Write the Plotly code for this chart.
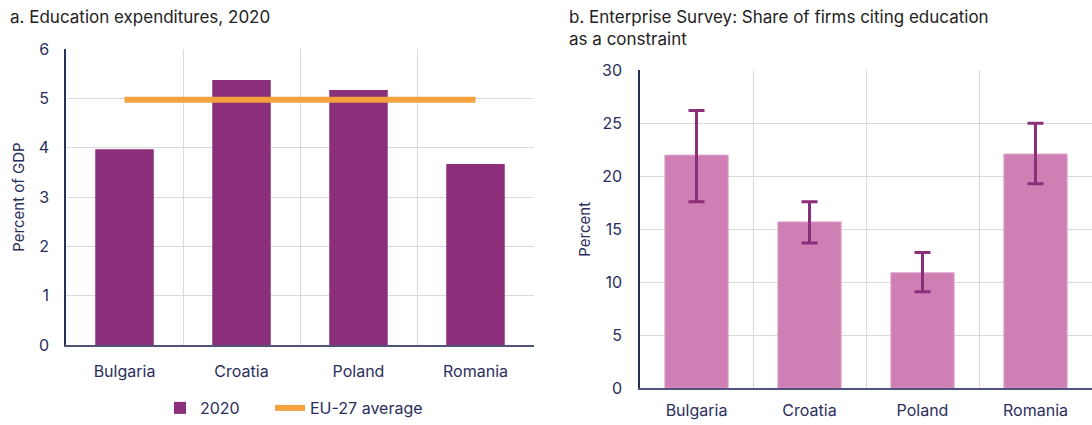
import plotly.graph_objects as go

# Panel a: education expenditures, percent of GDP (2020)
countries = ["Bulgaria", "Croatia", "Poland", "Romania"]
spend_2020 = [3.97, 5.37, 5.17, 3.67]
eu27_average = 4.97

# Panel b: share of firms citing education as a constraint (percent)
firm_share = [22.0, 15.7, 10.9, 22.1]
ci_upper = [26.2, 17.6, 12.8, 25.0]
ci_lower = [17.6, 13.7, 9.1, 19.3]

y_ticks_a = [0, 1, 2, 3, 4, 5, 6]
y_ticks_b = [0, 5, 10, 15, 20, 25, 30]

FONT = "Inter, Lato, sans-serif"
INK = "#2b2e5c"
GRID = "#d9d8e3"
PURPLE = "#8b2f7b"
PINK = "#cf7fb4"
ORANGE = "#f4a23e"

fig = go.Figure()

fig.add_trace(go.Bar(
    x=countries, y=spend_2020, name="2020",
    marker=dict(color=PURPLE, line=dict(width=0)),
    width=0.5, xaxis="x", yaxis="y", showlegend=True, legend="legend",
))
fig.add_trace(go.Scatter(
    x=countries, y=[eu27_average] * len(countries), name="EU-27 average",
    mode="lines", line=dict(color=ORANGE, width=6),
    xaxis="x", yaxis="y", showlegend=True, legend="legend2",
))

err_plus = [u - v for u, v in zip(ci_upper, firm_share)]
err_minus = [v - l for v, l in zip(firm_share, ci_lower)]
fig.add_trace(go.Bar(
    x=countries, y=firm_share, name="Share of firms",
    marker=dict(color=PINK, line=dict(color="#dea6cb", width=1)),
    width=0.56, xaxis="x2", yaxis="y2", showlegend=False,
    error_y=dict(type="data", symmetric=False, array=err_plus,
                 arrayminus=err_minus, color=PURPLE, thickness=3, width=8),
))

axis_common = dict(
    showgrid=True, gridcolor=GRID, gridwidth=1, zeroline=False,
    automargin=False,
    tickfont=dict(family=FONT, size=16, color=INK),
)

legend_common = dict(
    orientation="h", xanchor="left", y=0.0, yanchor="bottom",
    font=dict(family=FONT, size=16, color=INK),
    itemwidth=30, bgcolor="rgba(0,0,0,0)",
)

fig.update_layout(
    width=1092, height=425,
    margin=dict(l=0, r=0, t=0, b=0),
    paper_bgcolor="white", plot_bgcolor="white",
    font=dict(family=FONT, color=INK),
    xaxis=dict(
        domain=[66 / 1092, 534 / 1092], anchor="y", type="category",
        tickson="boundaries", range=[-0.5, 3.5],
        showline=True, linecolor="#50537a", linewidth=2,
        ticks="", ticklabelstandoff=11,
        **axis_common,
    ),
    yaxis=dict(
        domain=[1 - 345 / 425, 1 - 49 / 425], anchor="x",
        range=[0, 6], tickvals=y_ticks_a,
        showline=True, linecolor=INK, linewidth=1.5,
        ticks="", ticklabelstandoff=12,
        title=dict(text="Percent of GDP", font=dict(family=FONT, size=15, color=INK), standoff=10),
        **axis_common,
    ),
    xaxis2=dict(
        domain=[640 / 1092, 1.0], anchor="y2", type="category",
        tickson="boundaries", range=[-0.5, 3.5],
        showline=True, linecolor="#50537a", linewidth=2,
        ticks="", ticklabelstandoff=6,
        **axis_common,
    ),
    yaxis2=dict(
        domain=[1 - 388.3 / 425, 1 - 70.3 / 425], anchor="x2",
        range=[0, 30], tickvals=y_ticks_b,
        showline=True, linecolor=INK, linewidth=1.5,
        ticks="", ticklabelstandoff=13,
        title=dict(text="Percent", font=dict(family=FONT, size=15, color=INK), standoff=8),
        **axis_common,
    ),
    legend=dict(x=160 / 1092, **legend_common),
    legend2=dict(x=270 / 1092, **legend_common),
    annotations=[
        dict(text="a. Education expenditures, 2020", x=8 / 1092, y=1 - 5 / 425,
             xref="paper", yref="paper", xanchor="left", yanchor="top",
             showarrow=False, align="left",
             font=dict(family=FONT, size=17, color="#222222")),
        dict(text="b. Enterprise Survey: Share of firms citing education<br>as a constraint",
             x=567 / 1092, y=1 - 5 / 425,
             xref="paper", yref="paper", xanchor="left", yanchor="top",
             showarrow=False, align="left",
             font=dict(family=FONT, size=17, color="#222222")),
    ],
)

fig.write_html("out.html")
